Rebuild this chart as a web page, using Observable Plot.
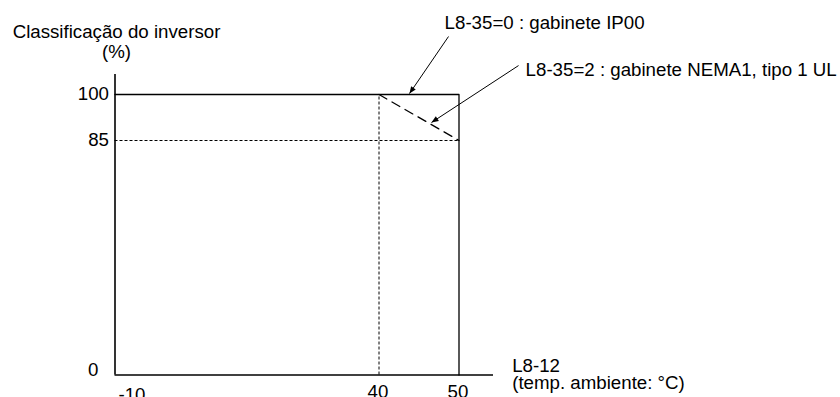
<!DOCTYPE html>
<html>
<head>
<meta charset="utf-8">
<script src="https://cdn.jsdelivr.net/npm/d3@7"></script>
<script src="https://cdn.jsdelivr.net/npm/@observablehq/plot@0.6"></script>
<style>
  html, body { margin: 0; padding: 0; background: #fff; }
  #chart svg { display: block; }
</style>
</head>
<body>
<div id="chart"></div>
<script>
// ---- Data ----
const xTicks = [-10, 40, 50];
const yTicks = [0, 85, 100];

// IP00 derating curve (solid): temperature (°C) vs rating (%)
const ip00Temp = [-10, 50, 50];
const ip00Rating = [100, 100, 0];

// NEMA1 / UL type 1 derating (dashed)
const nemaTemp = [40, 50];
const nemaRating = [100, 85];

// Dotted guide values
const guideRating = [85];
const guideTemp = [40];

// Annotation texts and their anchor points (data space)
const noteTexts = ["L8-35=0 : gabinete IP00", "L8-35=2 : gabinete NEMA1, tipo 1 UL"];
const noteTextTemp = [48.2, 58.3];
const noteTextRating = [123.3, 107.8];
const arrowFromTemp = [48.69, 57.42];
const arrowFromRating = [118.85, 109.4];
const arrowToTemp = [43.81, 46.56];
const arrowToRating = [100.3, 90.87];

const yTitle = "Classificação do inversor\n(%)";
const xTitle = "L8-12\n(temp. ambiente: °C)";

// ---- Build tables ----
const ip00 = ip00Temp.map((t, i) => ({t, r: ip00Rating[i]}));
const nema = nemaTemp.map((t, i) => ({t, r: nemaRating[i]}));
const notes = noteTexts.map((s, i) => ({s, t: noteTextTemp[i], r: noteTextRating[i]}));
const arrows = arrowFromTemp.map((_, i) => ({
  x1: arrowFromTemp[i], y1: arrowFromRating[i], x2: arrowToTemp[i], y2: arrowToRating[i]
}));

const xMin = xTicks[0];
const xAxisEnd = 54.3;
const yAxisEnd = 106.5;

const FONT = "18.7px";

function arrowHead(color) {
  const m = d3.create("svg:marker")
    .attr("viewBox", "-8 -4 9 8")
    .attr("markerWidth", 9)
    .attr("markerHeight", 8)
    .attr("markerUnits", "userSpaceOnUse")
    .attr("refX", 0)
    .attr("refY", 0)
    .attr("orient", "auto");
  m.append("path").attr("d", "M-7,-2.8L0,0L-7,2.8Z").attr("fill", color).attr("stroke", "none");
  return m.node();
}

const chart = Plot.plot({
  width: 840,
  height: 397,
  margin: 0,
  style: {fontFamily: "'Liberation Sans', Arial, sans-serif", fontSize: FONT, color: "#000", background: "#fff"},
  x: {type: "linear", domain: [-10, 40, 50, xAxisEnd], range: [114.5, 378.5, 458.5, 493], axis: null},
  y: {type: "linear", domain: [0, 85, 100, yAxisEnd], range: [374.5, 140, 94, 74], axis: null},
  marks: [
    // dotted guides
    Plot.ruleY(guideRating, {x1: xMin, x2: 50, stroke: "#000", strokeWidth: 1, strokeDasharray: "3,2"}),
    Plot.ruleX(guideTemp, {y1: 0, y2: 100, stroke: "#000", strokeWidth: 1, strokeDasharray: "3,2"}),
    // NEMA1 dashed derating
    Plot.line(nema, {x: "t", y: "r", stroke: "#000", strokeWidth: 1.3, strokeDasharray: "9,6"}),
    // IP00 solid
    Plot.line(ip00, {x: "t", y: "r", stroke: "#000", strokeWidth: 1.3}),
    // axes
    Plot.ruleX([xMin], {y1: 0, y2: yAxisEnd, stroke: "#000", strokeWidth: 1.6}),
    Plot.ruleY([0], {x1: xMin, x2: xAxisEnd, stroke: "#000", strokeWidth: 1.6}),
    // y tick labels
    Plot.text(yTicks.filter(d => d !== 0), {x: xMin, y: d => d, text: d => String(d), textAnchor: "end", dx: -6, fill: "#000", fontSize: FONT}),
    Plot.text(yTicks.filter(d => d === 0), {x: xMin, y: d => d, text: d => String(d), textAnchor: "end", dx: -16.5, dy: -4.5, fill: "#000", fontSize: FONT}),
    // x tick labels
    Plot.text(xTicks.filter(d => d !== xMin), {x: d => d, y: 0, text: d => String(d), textAnchor: "middle", dx: -1, dy: 17.5, fill: "#000", fontSize: FONT}),
    Plot.text(xTicks.filter(d => d === xMin), {x: d => d, y: 0, text: d => String(d), textAnchor: "start", dx: 3.5, dy: 20.5, fill: "#000", fontSize: FONT}),
    // axis titles
    Plot.text([yTitle], {frameAnchor: "top-left", dx: 116, dy: 23.3, text: d => d, textAnchor: "middle", lineAnchor: "top", lineHeight: 1.07, fill: "#000", fontSize: FONT}),
    Plot.text([xTitle], {frameAnchor: "top-left", dx: 511.7, dy: 358.8, text: d => d, textAnchor: "start", lineAnchor: "top", lineHeight: 0.93, fill: "#000", fontSize: FONT}),
    // annotations
    Plot.link(arrows, {x1: "x1", y1: "y1", x2: "x2", y2: "y2", stroke: "#000", strokeWidth: 1, markerEnd: arrowHead}),
    Plot.text(notes, {x: "t", y: "r", text: "s", textAnchor: "start", fill: "#000", fontSize: FONT})
  ]
});

document.getElementById("chart").appendChild(chart);
</script>
</body>
</html>
